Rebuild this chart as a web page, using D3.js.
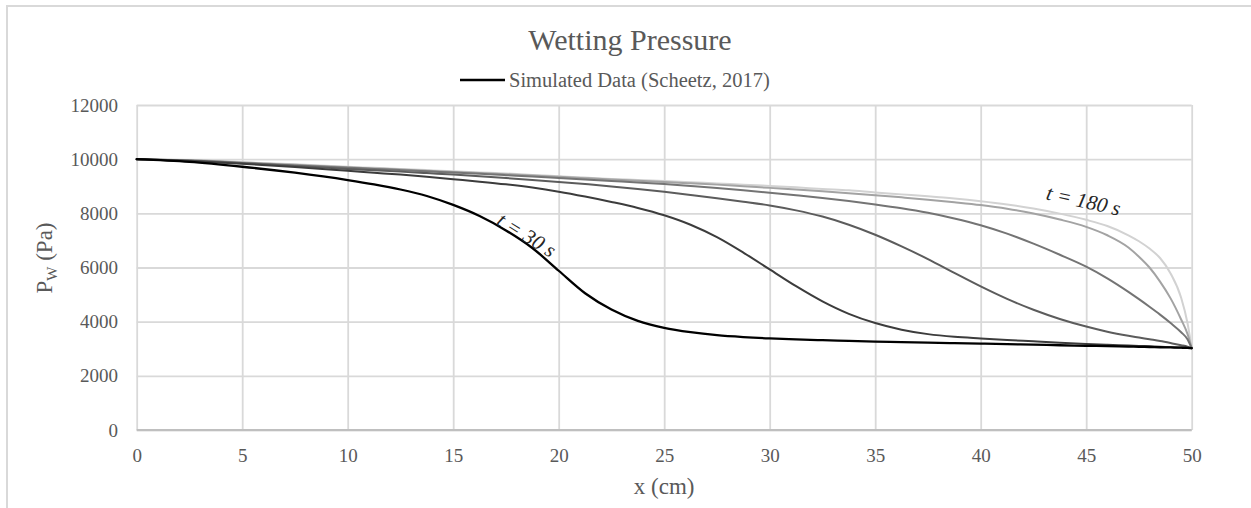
<!DOCTYPE html>
<html>
<head>
<meta charset="utf-8">
<script src="https://cdn.jsdelivr.net/npm/d3@7"></script>
<style>
  body { margin: 0; background: #fff; }
  svg { display: block; font-family: "Liberation Serif", "Times New Roman", serif; }
  .grid line { stroke: #d9d9d9; stroke-width: 1.8; }
  .grid path { display: none; }
  .axis text { fill: #595959; font-size: 19px; font-family: "Liberation Serif", "Times New Roman", serif; }
  .curve { fill: none; stroke-linejoin: round; stroke-linecap: round; }
</style>
</head>
<body>
<script>

  // x positions (cm), shared by all series
  var xPositions = [0, 2.5, 5, 7.5, 10, 11.25, 12.5, 13.75, 15, 16.25, 17.5, 18.75, 20, 21.25,
                    22.5, 23.75, 25, 26.25, 27.5, 28.75, 30, 31.25, 32.5, 33.75, 35, 36.25,
                    37.5, 38.75, 40, 41.25, 42.5, 43.75, 45, 46, 47, 47.5, 48, 48.5, 49, 49.5, 49.8, 50];

  // wetting pressure (Pa) for each time
  var p30  = [10000, 9900, 9720, 9500, 9230, 9070, 8880, 8640, 8310, 7900, 7370, 6720, 5880, 5050,
              4450, 4030, 3770, 3610, 3500, 3430, 3380, 3345, 3315, 3290, 3265, 3245,
              3225, 3205, 3190, 3170, 3150, 3130, 3110, 3095, 3080, 3072, 3064, 3056, 3048, 3038, 3030, 3020];
  var p60  = [10000, 9930, 9830, 9710, 9570, 9500, 9430, 9350, 9260, 9170, 9070, 8950, 8800, 8620,
              8420, 8200, 7930, 7580, 7120, 6550, 5930, 5310, 4750, 4290, 3950, 3705,
              3540, 3440, 3380, 3325, 3275, 3225, 3180, 3150, 3120, 3105, 3090, 3075, 3060, 3045, 3032, 3020];
  var p90  = [10000, 9940, 9850, 9750, 9640, 9590, 9540, 9485, 9430, 9370, 9305, 9235, 9160, 9080,
              8995, 8900, 8795, 8680, 8560, 8430, 8290, 8110, 7880, 7580, 7210, 6780,
              6310, 5800, 5300, 4840, 4440, 4100, 3820, 3630, 3480, 3415, 3350, 3285, 3210, 3130, 3075, 3020];
  var p120 = [10000, 9950, 9860, 9770, 9680, 9640, 9595, 9550, 9505, 9460, 9410, 9360, 9305, 9250,
              9195, 9140, 9080, 9010, 8935, 8850, 8760, 8665, 8565, 8455, 8330, 8190,
              8020, 7810, 7560, 7250, 6880, 6470, 6030, 5600, 5100, 4830, 4550, 4260, 3950, 3610, 3350, 3020];
  var p150 = [10000, 9960, 9880, 9790, 9700, 9660, 9620, 9575, 9530, 9490, 9445, 9400, 9350, 9300,
              9250, 9205, 9160, 9110, 9060, 9000, 8940, 8880, 8815, 8745, 8670, 8590,
              8505, 8410, 8305, 8170, 7990, 7770, 7500, 7190, 6740, 6400, 6000, 5480, 4860, 4080, 3550, 3020];
  var p180 = [10000, 9970, 9890, 9810, 9720, 9680, 9640, 9595, 9550, 9510, 9470, 9420, 9370, 9320,
              9270, 9230, 9190, 9150, 9100, 9060, 9010, 8960, 8900, 8850, 8770, 8700,
              8630, 8550, 8450, 8330, 8180, 7990, 7760, 7530, 7190, 6970, 6700, 6350, 5780, 4880, 3950, 3020];

  var seriesNames  = ["t30", "t60", "t90", "t120", "t150", "t180"];
  var seriesValues = [p30, p60, p90, p120, p150, p180];
  var seriesColors = ["#000000", "#3c3c3c", "#5c5c5c", "#747474", "#a3a3a3", "#d2d2d2"];
  var seriesWidths = [2.3, 2, 2, 2, 2, 2];

  var xTicks = [0, 5, 10, 15, 20, 25, 30, 35, 40, 45, 50];
  var yTicks = [0, 2000, 4000, 6000, 8000, 10000, 12000];

  var width = 1251,
      height = 508;
  var plot = {left: 136.7, right: 1191.7, top: 105, bottom: 430};

  var xScale = d3.scaleLinear().domain([0, 50]).range([plot.left, plot.right]);
  var yScale = d3.scaleLinear().domain([0, 12000]).range([plot.bottom, plot.top]);

  var svg = d3.select("body").append("svg")
      .attr("width", width)
      .attr("height", height);

  // chart frame (runs off the right and bottom edges)
  svg.append("rect")
      .attr("x", 7).attr("y", 6)
      .attr("width", width + 10).attr("height", height + 10)
      .attr("fill", "none")
      .attr("stroke", "#d9d9d9")
      .attr("stroke-width", 2);

  // grid + y labels
  svg.append("g")
      .attr("class", "grid axis")
      .attr("transform", "translate(" + plot.left + ",0)")
      .call(d3.axisLeft(yScale).tickValues(yTicks).tickFormat(d3.format("d"))
        .tickSize(-(plot.right - plot.left)).tickPadding(18.7));

  // grid + x labels
  svg.append("g")
      .attr("class", "grid axis")
      .attr("transform", "translate(0," + plot.bottom + ")")
      .call(d3.axisBottom(xScale).tickValues(xTicks)
        .tickSize(-(plot.bottom - plot.top)).tickPadding(18.5))
      .selectAll("text").attr("y", 18.5);

  // baseline axis line
  svg.append("line")
      .attr("x1", plot.left).attr("x2", plot.right)
      .attr("y1", plot.bottom).attr("y2", plot.bottom)
      .attr("stroke", "#bfbfbf")
      .attr("stroke-width", 2);

  // curves, lightest first so the black one sits on top
  var line = d3.line()
      .x(function(d) { return xScale(d[0]); })
      .y(function(d) { return yScale(d[1]); })
      .curve(d3.curveMonotoneX);

  for (var i = seriesValues.length - 1; i >= 0; i--) {
    var pts = xPositions.map(function(x, j) { return [x, seriesValues[i][j]]; });
    svg.append("path")
        .attr("class", "curve " + seriesNames[i])
        .attr("d", line(pts))
        .attr("stroke", seriesColors[i])
        .attr("stroke-width", seriesWidths[i]);
  }

  // title
  svg.append("text")
      .attr("x", 630).attr("y", 50)
      .attr("text-anchor", "middle")
      .attr("font-size", "30px")
      .attr("fill", "#595959")
      .text("Wetting Pressure");

  // legend
  svg.append("line")
      .attr("x1", 460).attr("x2", 505)
      .attr("y1", 80).attr("y2", 80)
      .attr("stroke", seriesColors[0])
      .attr("stroke-width", 2.3);
  svg.append("text")
      .attr("x", 509).attr("y", 87)
      .attr("font-size", "20.5px")
      .attr("fill", "#595959")
      .text("Simulated Data (Scheetz, 2017)");

  // axis titles
  svg.append("text")
      .attr("x", (plot.left + plot.right) / 2).attr("y", 494)
      .attr("text-anchor", "middle")
      .attr("font-size", "23px")
      .attr("fill", "#595959")
      .text("x (cm)");

  var yTitle = svg.append("text")
      .attr("transform", "translate(51.5,258) rotate(-90)")
      .attr("text-anchor", "middle")
      .attr("font-size", "23px")
      .attr("fill", "#595959");
  yTitle.append("tspan").text("P");
  yTitle.append("tspan").attr("font-size", "15px").attr("dy", 5).text("W");
  yTitle.append("tspan").attr("dy", -5).text(" (Pa)");

  // curve labels
  svg.append("text")
      .attr("transform", "translate(523,241) rotate(32)")
      .attr("text-anchor", "middle")
      .attr("font-size", "21px")
      .attr("font-style", "italic")
      .attr("fill", "#262626")
      .text("t = 30 s");

  svg.append("text")
      .attr("transform", "translate(1082,207.5) rotate(12.5)")
      .attr("text-anchor", "middle")
      .attr("font-size", "21px")
      .attr("font-style", "italic")
      .attr("fill", "#262626")
      .text("t = 180 s");

</script>
</body>
</html>
